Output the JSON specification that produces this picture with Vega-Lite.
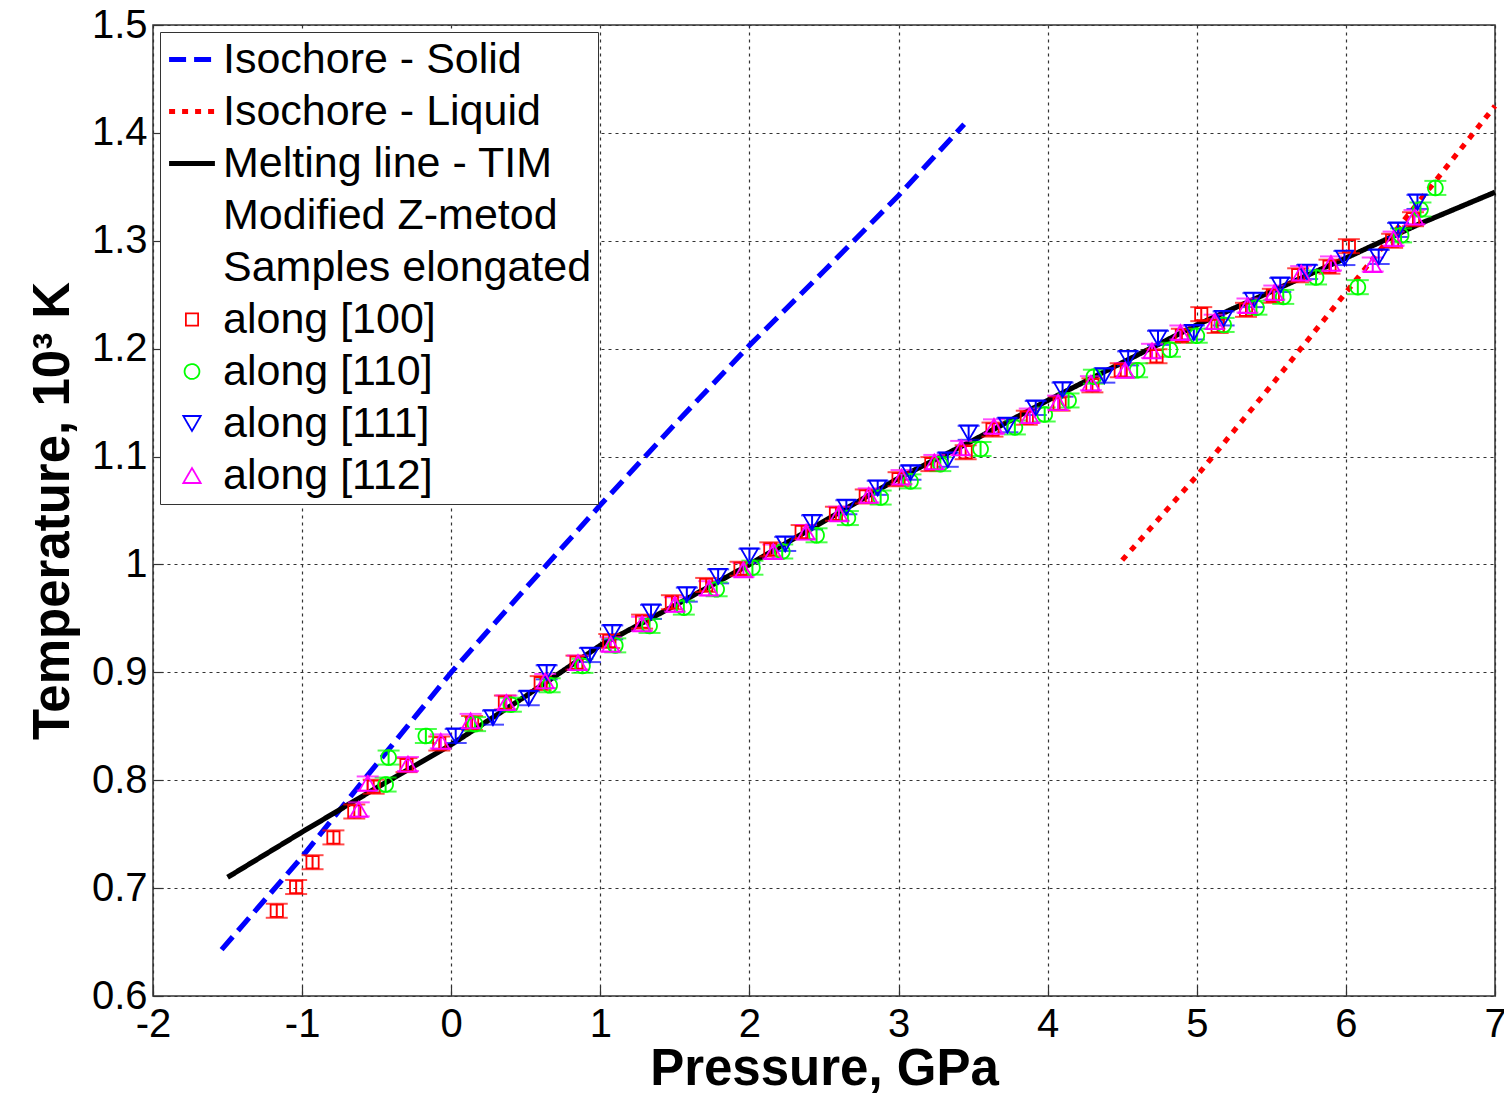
{
  "$schema": "https://vega.github.io/schema/vega-lite/v6.json",
  "autosize": {"type": "none"},
  "width": 1342,
  "height": 971,
  "padding": {"left": 153, "top": 25, "right": 9, "bottom": 97},
  "background": "white",
  "config": {
    "font": "Liberation Sans",
    "view": {"stroke": "#333333", "strokeWidth": 1.5},
    "axis": {
      "labelFont": "Liberation Sans", "labelFontSize": 40, "labelColor": "black", "labelFlush": false,
      "titleFont": "Liberation Sans", "titleFontSize": 51, "titleFontWeight": "bold", "titleColor": "black",
      "gridColor": "#333333", "gridDash": [3, 4], "gridWidth": 1.2, "gridOpacity": 1,
      "domain": false, "tickColor": "#333333", "tickSize": -10, "tickWidth": 1.2
    },
    "legend": {
      "labelFont": "Liberation Sans", "labelFontSize": 43, "labelColor": "black", "labelLimit": 800,
      "clipHeight": 43, "rowPadding": 8, "labelOffset": 5
    }
  },
  "resolve": {"scale": {"color": "independent", "strokeDash": "independent", "strokeWidth": "independent", "shape": "independent", "size": "independent"}},
  "datasets": {
    "lines": [
      {"P": -1.54, "T": 0.643, "series": "Isochore - Solid"},
      {"P": -1.0, "T": 0.729, "series": "Isochore - Solid"},
      {"P": -0.5, "T": 0.815, "series": "Isochore - Solid"},
      {"P": 0.0, "T": 0.9, "series": "Isochore - Solid"},
      {"P": 0.5, "T": 0.978, "series": "Isochore - Solid"},
      {"P": 1.0, "T": 1.055, "series": "Isochore - Solid"},
      {"P": 1.5, "T": 1.13, "series": "Isochore - Solid"},
      {"P": 2.0, "T": 1.203, "series": "Isochore - Solid"},
      {"P": 2.5, "T": 1.272, "series": "Isochore - Solid"},
      {"P": 3.0, "T": 1.342, "series": "Isochore - Solid"},
      {"P": 3.44, "T": 1.408, "series": "Isochore - Solid"},
      {"P": 4.5, "T": 1.004, "series": "Isochore - Liquid"},
      {"P": 5.0, "T": 1.082, "series": "Isochore - Liquid"},
      {"P": 5.5, "T": 1.166, "series": "Isochore - Liquid"},
      {"P": 6.0, "T": 1.252, "series": "Isochore - Liquid"},
      {"P": 6.5, "T": 1.338, "series": "Isochore - Liquid"},
      {"P": 7.0, "T": 1.425, "series": "Isochore - Liquid"},
      {"P": -1.5, "T": 0.71, "series": "Melting line - TIM"},
      {"P": -1.0, "T": 0.752, "series": "Melting line - TIM"},
      {"P": -0.5, "T": 0.793, "series": "Melting line - TIM"},
      {"P": 0.0, "T": 0.833, "series": "Melting line - TIM"},
      {"P": 0.5, "T": 0.878, "series": "Melting line - TIM"},
      {"P": 1.0, "T": 0.925, "series": "Melting line - TIM"},
      {"P": 1.5, "T": 0.962, "series": "Melting line - TIM"},
      {"P": 2.0, "T": 1.0, "series": "Melting line - TIM"},
      {"P": 2.5, "T": 1.04, "series": "Melting line - TIM"},
      {"P": 3.0, "T": 1.08, "series": "Melting line - TIM"},
      {"P": 3.5, "T": 1.115, "series": "Melting line - TIM"},
      {"P": 4.0, "T": 1.152, "series": "Melting line - TIM"},
      {"P": 4.5, "T": 1.187, "series": "Melting line - TIM"},
      {"P": 5.0, "T": 1.222, "series": "Melting line - TIM"},
      {"P": 5.5, "T": 1.253, "series": "Melting line - TIM"},
      {"P": 6.0, "T": 1.284, "series": "Melting line - TIM"},
      {"P": 6.5, "T": 1.316, "series": "Melting line - TIM"},
      {"P": 7.0, "T": 1.345, "series": "Melting line - TIM"}
    ],
    "samples": [
      {"P": -1.17, "T": 0.679, "e": 0.0065, "series": "along [100]"},
      {"P": -1.04, "T": 0.701, "e": 0.0065, "series": "along [100]"},
      {"P": -0.93, "T": 0.724, "e": 0.0065, "series": "along [100]"},
      {"P": -0.79, "T": 0.747, "e": 0.0065, "series": "along [100]"},
      {"P": -0.65, "T": 0.771, "e": 0.0065, "series": "along [100]"},
      {"P": -0.52, "T": 0.794, "e": 0.0065, "series": "along [100]"},
      {"P": -0.30, "T": 0.814, "e": 0.0065, "series": "along [100]"},
      {"P": -0.08, "T": 0.834, "e": 0.0065, "series": "along [100]"},
      {"P": 0.14, "T": 0.853, "e": 0.0065, "series": "along [100]"},
      {"P": 0.36, "T": 0.872, "e": 0.0065, "series": "along [100]"},
      {"P": 0.60, "T": 0.890, "e": 0.0065, "series": "along [100]"},
      {"P": 0.84, "T": 0.909, "e": 0.0065, "series": "along [100]"},
      {"P": 1.06, "T": 0.929, "e": 0.0065, "series": "along [100]"},
      {"P": 1.28, "T": 0.947, "e": 0.0065, "series": "along [100]"},
      {"P": 1.48, "T": 0.965, "e": 0.0065, "series": "along [100]"},
      {"P": 1.71, "T": 0.981, "e": 0.0065, "series": "along [100]"},
      {"P": 1.94, "T": 0.996, "e": 0.0065, "series": "along [100]"},
      {"P": 2.14, "T": 1.014, "e": 0.0065, "series": "along [100]"},
      {"P": 2.35, "T": 1.030, "e": 0.0065, "series": "along [100]"},
      {"P": 2.58, "T": 1.047, "e": 0.0065, "series": "along [100]"},
      {"P": 2.78, "T": 1.063, "e": 0.0065, "series": "along [100]"},
      {"P": 3.00, "T": 1.079, "e": 0.0065, "series": "along [100]"},
      {"P": 3.22, "T": 1.093, "e": 0.0065, "series": "along [100]"},
      {"P": 3.45, "T": 1.104, "e": 0.0065, "series": "along [100]"},
      {"P": 3.63, "T": 1.125, "e": 0.0065, "series": "along [100]"},
      {"P": 3.86, "T": 1.136, "e": 0.0065, "series": "along [100]"},
      {"P": 4.08, "T": 1.149, "e": 0.0065, "series": "along [100]"},
      {"P": 4.30, "T": 1.166, "e": 0.0065, "series": "along [100]"},
      {"P": 4.49, "T": 1.180, "e": 0.0065, "series": "along [100]"},
      {"P": 4.73, "T": 1.193, "e": 0.0065, "series": "along [100]"},
      {"P": 4.90, "T": 1.212, "e": 0.0065, "series": "along [100]"},
      {"P": 5.03, "T": 1.232, "e": 0.0065, "series": "along [100]"},
      {"P": 5.14, "T": 1.221, "e": 0.0065, "series": "along [100]"},
      {"P": 5.33, "T": 1.236, "e": 0.0065, "series": "along [100]"},
      {"P": 5.51, "T": 1.249, "e": 0.0065, "series": "along [100]"},
      {"P": 5.68, "T": 1.268, "e": 0.0065, "series": "along [100]"},
      {"P": 5.89, "T": 1.276, "e": 0.0065, "series": "along [100]"},
      {"P": 6.02, "T": 1.295, "e": 0.0065, "series": "along [100]"},
      {"P": 6.31, "T": 1.300, "e": 0.0065, "series": "along [100]"},
      {"P": 6.45, "T": 1.320, "e": 0.0065, "series": "along [100]"},
      {"P": -0.44, "T": 0.796, "e": 0.0065, "series": "along [110]"},
      {"P": -0.42, "T": 0.821, "e": 0.0065, "series": "along [110]"},
      {"P": -0.17, "T": 0.841, "e": 0.0065, "series": "along [110]"},
      {"P": 0.16, "T": 0.852, "e": 0.0065, "series": "along [110]"},
      {"P": 0.40, "T": 0.870, "e": 0.0065, "series": "along [110]"},
      {"P": 0.66, "T": 0.888, "e": 0.0065, "series": "along [110]"},
      {"P": 0.88, "T": 0.906, "e": 0.0065, "series": "along [110]"},
      {"P": 1.10, "T": 0.925, "e": 0.0065, "series": "along [110]"},
      {"P": 1.33, "T": 0.943, "e": 0.0065, "series": "along [110]"},
      {"P": 1.56, "T": 0.960, "e": 0.0065, "series": "along [110]"},
      {"P": 1.78, "T": 0.977, "e": 0.0065, "series": "along [110]"},
      {"P": 2.02, "T": 0.997, "e": 0.0065, "series": "along [110]"},
      {"P": 2.22, "T": 1.012, "e": 0.0065, "series": "along [110]"},
      {"P": 2.45, "T": 1.027, "e": 0.0065, "series": "along [110]"},
      {"P": 2.66, "T": 1.043, "e": 0.0065, "series": "along [110]"},
      {"P": 2.88, "T": 1.062, "e": 0.0065, "series": "along [110]"},
      {"P": 3.08, "T": 1.077, "e": 0.0065, "series": "along [110]"},
      {"P": 3.28, "T": 1.093, "e": 0.0065, "series": "along [110]"},
      {"P": 3.55, "T": 1.107, "e": 0.0065, "series": "along [110]"},
      {"P": 3.78, "T": 1.127, "e": 0.0065, "series": "along [110]"},
      {"P": 3.98, "T": 1.139, "e": 0.0065, "series": "along [110]"},
      {"P": 4.14, "T": 1.152, "e": 0.0065, "series": "along [110]"},
      {"P": 4.31, "T": 1.174, "e": 0.0065, "series": "along [110]"},
      {"P": 4.60, "T": 1.180, "e": 0.0065, "series": "along [110]"},
      {"P": 4.82, "T": 1.199, "e": 0.0065, "series": "along [110]"},
      {"P": 5.00, "T": 1.212, "e": 0.0065, "series": "along [110]"},
      {"P": 5.18, "T": 1.222, "e": 0.0065, "series": "along [110]"},
      {"P": 5.40, "T": 1.238, "e": 0.0065, "series": "along [110]"},
      {"P": 5.58, "T": 1.248, "e": 0.0065, "series": "along [110]"},
      {"P": 5.80, "T": 1.266, "e": 0.0065, "series": "along [110]"},
      {"P": 6.08, "T": 1.257, "e": 0.0065, "series": "along [110]"},
      {"P": 6.37, "T": 1.305, "e": 0.0065, "series": "along [110]"},
      {"P": 6.50, "T": 1.329, "e": 0.0065, "series": "along [110]"},
      {"P": 6.60, "T": 1.349, "e": 0.0065, "series": "along [110]"},
      {"P": 0.03, "T": 0.841, "e": 0.0065, "series": "along [111]"},
      {"P": 0.28, "T": 0.858, "e": 0.0065, "series": "along [111]"},
      {"P": 0.52, "T": 0.876, "e": 0.0065, "series": "along [111]"},
      {"P": 0.64, "T": 0.900, "e": 0.0065, "series": "along [111]"},
      {"P": 0.93, "T": 0.916, "e": 0.0065, "series": "along [111]"},
      {"P": 1.08, "T": 0.937, "e": 0.0065, "series": "along [111]"},
      {"P": 1.34, "T": 0.956, "e": 0.0065, "series": "along [111]"},
      {"P": 1.58, "T": 0.972, "e": 0.0065, "series": "along [111]"},
      {"P": 1.79, "T": 0.989, "e": 0.0065, "series": "along [111]"},
      {"P": 2.00, "T": 1.008, "e": 0.0065, "series": "along [111]"},
      {"P": 2.24, "T": 1.019, "e": 0.0065, "series": "along [111]"},
      {"P": 2.42, "T": 1.039, "e": 0.0065, "series": "along [111]"},
      {"P": 2.65, "T": 1.053, "e": 0.0065, "series": "along [111]"},
      {"P": 2.86, "T": 1.071, "e": 0.0065, "series": "along [111]"},
      {"P": 3.08, "T": 1.085, "e": 0.0065, "series": "along [111]"},
      {"P": 3.33, "T": 1.097, "e": 0.0065, "series": "along [111]"},
      {"P": 3.47, "T": 1.122, "e": 0.0065, "series": "along [111]"},
      {"P": 3.73, "T": 1.129, "e": 0.0065, "series": "along [111]"},
      {"P": 3.92, "T": 1.145, "e": 0.0065, "series": "along [111]"},
      {"P": 4.10, "T": 1.162, "e": 0.0065, "series": "along [111]"},
      {"P": 4.38, "T": 1.175, "e": 0.0065, "series": "along [111]"},
      {"P": 4.54, "T": 1.191, "e": 0.0065, "series": "along [111]"},
      {"P": 4.74, "T": 1.210, "e": 0.0065, "series": "along [111]"},
      {"P": 4.98, "T": 1.215, "e": 0.0065, "series": "along [111]"},
      {"P": 5.18, "T": 1.228, "e": 0.0065, "series": "along [111]"},
      {"P": 5.38, "T": 1.245, "e": 0.0065, "series": "along [111]"},
      {"P": 5.56, "T": 1.259, "e": 0.0065, "series": "along [111]"},
      {"P": 5.74, "T": 1.271, "e": 0.0065, "series": "along [111]"},
      {"P": 5.99, "T": 1.284, "e": 0.0065, "series": "along [111]"},
      {"P": 6.22, "T": 1.285, "e": 0.0065, "series": "along [111]"},
      {"P": 6.35, "T": 1.310, "e": 0.0065, "series": "along [111]"},
      {"P": 6.48, "T": 1.336, "e": 0.0065, "series": "along [111]"},
      {"P": -0.62, "T": 0.773, "e": 0.0065, "series": "along [112]"},
      {"P": -0.56, "T": 0.797, "e": 0.0065, "series": "along [112]"},
      {"P": -0.29, "T": 0.815, "e": 0.0065, "series": "along [112]"},
      {"P": -0.07, "T": 0.836, "e": 0.0065, "series": "along [112]"},
      {"P": 0.13, "T": 0.855, "e": 0.0065, "series": "along [112]"},
      {"P": 0.37, "T": 0.872, "e": 0.0065, "series": "along [112]"},
      {"P": 0.63, "T": 0.892, "e": 0.0065, "series": "along [112]"},
      {"P": 0.85, "T": 0.909, "e": 0.0065, "series": "along [112]"},
      {"P": 1.07, "T": 0.926, "e": 0.0065, "series": "along [112]"},
      {"P": 1.28, "T": 0.945, "e": 0.0065, "series": "along [112]"},
      {"P": 1.50, "T": 0.963, "e": 0.0065, "series": "along [112]"},
      {"P": 1.73, "T": 0.978, "e": 0.0065, "series": "along [112]"},
      {"P": 1.96, "T": 0.995, "e": 0.0065, "series": "along [112]"},
      {"P": 2.16, "T": 1.012, "e": 0.0065, "series": "along [112]"},
      {"P": 2.38, "T": 1.030, "e": 0.0065, "series": "along [112]"},
      {"P": 2.60, "T": 1.047, "e": 0.0065, "series": "along [112]"},
      {"P": 2.80, "T": 1.064, "e": 0.0065, "series": "along [112]"},
      {"P": 3.02, "T": 1.081, "e": 0.0065, "series": "along [112]"},
      {"P": 3.24, "T": 1.095, "e": 0.0065, "series": "along [112]"},
      {"P": 3.42, "T": 1.108, "e": 0.0065, "series": "along [112]"},
      {"P": 3.64, "T": 1.128, "e": 0.0065, "series": "along [112]"},
      {"P": 3.88, "T": 1.138, "e": 0.0065, "series": "along [112]"},
      {"P": 4.07, "T": 1.150, "e": 0.0065, "series": "along [112]"},
      {"P": 4.29, "T": 1.168, "e": 0.0065, "series": "along [112]"},
      {"P": 4.52, "T": 1.180, "e": 0.0065, "series": "along [112]"},
      {"P": 4.70, "T": 1.198, "e": 0.0065, "series": "along [112]"},
      {"P": 4.89, "T": 1.215, "e": 0.0065, "series": "along [112]"},
      {"P": 5.12, "T": 1.225, "e": 0.0065, "series": "along [112]"},
      {"P": 5.34, "T": 1.240, "e": 0.0065, "series": "along [112]"},
      {"P": 5.52, "T": 1.252, "e": 0.0065, "series": "along [112]"},
      {"P": 5.70, "T": 1.270, "e": 0.0065, "series": "along [112]"},
      {"P": 5.90, "T": 1.279, "e": 0.0065, "series": "along [112]"},
      {"P": 6.18, "T": 1.278, "e": 0.0065, "series": "along [112]"},
      {"P": 6.32, "T": 1.302, "e": 0.0065, "series": "along [112]"},
      {"P": 6.46, "T": 1.322, "e": 0.0065, "series": "along [112]"}
    ]
  },
  "layer": [
    {
      "data": {"name": "lines"},
      "mark": {"type": "line", "strokeCap": "butt", "strokeWidth": 5.2},
      "encoding": {
        "x": {"field": "P", "type": "quantitative", "scale": {"domain": [-2, 7], "nice": false, "zero": false},
          "axis": {"values": [-2, -1, 0, 1, 2, 3, 4, 5, 6, 7], "title": "Pressure, GPa", "labelExpr": "datum.value + ''", "labelPadding": 18, "titlePadding": 0, "grid": true}},
        "y": {"field": "T", "type": "quantitative", "scale": {"domain": [0.6, 1.5], "nice": false, "zero": false},
          "axis": {"values": [0.6, 0.7, 0.8, 0.9, 1.0, 1.1, 1.2, 1.3, 1.4, 1.5], "format": "~g", "title": "Temperature, 10³ K", "labelPadding": 16, "titlePadding": 12, "grid": true}},
        "color": {"field": "series", "type": "nominal", "legend": null,
          "scale": {"domain": ["Isochore - Solid", "Isochore - Liquid", "Melting line - TIM"], "range": ["#0000FF", "#FF0000", "#000000"]}},
        "strokeDash": {"field": "series", "type": "nominal", "legend": null,
          "scale": {"domain": ["Isochore - Solid", "Isochore - Liquid", "Melting line - TIM"], "range": [[17, 8], [6, 7], [1, 0]]}}
      }
    },
    {
      "data": {"name": "samples"},
      "mark": {"type": "errorbar", "ticks": {"size": 22, "thickness": 2}, "rule": {"strokeWidth": 2}},
      "encoding": {
        "x": {"field": "P", "type": "quantitative"},
        "y": {"field": "T", "type": "quantitative", "title": "Temperature, 10³ K"},
        "yError": {"field": "e"},
        "color": {"field": "series", "type": "nominal", "legend": null,
          "scale": {"domain": ["along [100]", "along [110]", "along [111]", "along [112]"], "range": ["#FF0000", "#00FF00", "#0000FF", "#FF00FF"]}}
      }
    },
    {
      "data": {"name": "samples"},
      "mark": {"type": "point", "filled": false, "opacity": 1},
      "encoding": {
        "x": {"field": "P", "type": "quantitative"},
        "y": {"field": "T", "type": "quantitative", "title": "Temperature, 10³ K"},
        "color": {"field": "series", "type": "nominal",
          "scale": {
            "domain": ["Isochore - Solid", "Isochore - Liquid", "Melting line - TIM", "Modified Z-metod", "Samples elongated", "along [100]", "along [110]", "along [111]", "along [112]"],
            "range": ["#0000FF", "#FF0000", "#000000", "#FFFFFF", "#FFFFFF", "#FF0000", "#00FF00", "#0000FF", "#FF00FF"]
          },
          "legend": {
            "orient": "none", "legendX": 7, "legendY": 7, "title": null,
            "strokeColor": "#333333", "fillColor": "white", "padding": 6
          }},
        "strokeDash": {"field": "series", "type": "nominal",
          "scale": {
            "domain": ["Isochore - Solid", "Isochore - Liquid", "Melting line - TIM", "Modified Z-metod", "Samples elongated", "along [100]", "along [110]", "along [111]", "along [112]"],
            "range": [[17, 8], [6, 7], [1, 0], [1, 0], [1, 0], [1, 0], [1, 0], [1, 0], [1, 0]]
          }},
        "strokeWidth": {"field": "series", "type": "nominal",
          "scale": {
            "type": "ordinal",
            "domain": ["Isochore - Solid", "Isochore - Liquid", "Melting line - TIM", "Modified Z-metod", "Samples elongated", "along [100]", "along [110]", "along [111]", "along [112]"],
            "range": [5, 5, 5.2, 1, 1, 1.8, 1.8, 1.8, 1.8]
          }},
        "shape": {"field": "series", "type": "nominal",
          "scale": {
            "domain": ["Isochore - Solid", "Isochore - Liquid", "Melting line - TIM", "Modified Z-metod", "Samples elongated", "along [100]", "along [110]", "along [111]", "along [112]"],
            "range": ["stroke", "stroke", "stroke", "circle", "circle", "square", "circle", "triangle-down", "triangle-up"]
          }},
        "size": {"field": "series", "type": "nominal",
          "scale": {
            "type": "ordinal",
            "domain": ["Isochore - Solid", "Isochore - Liquid", "Melting line - TIM", "Modified Z-metod", "Samples elongated", "along [100]", "along [110]", "along [111]", "along [112]"],
            "range": [2100, 2100, 2100, 100, 100, 150, 220, 300, 300]
          }}
      }
    }
  ]
}
